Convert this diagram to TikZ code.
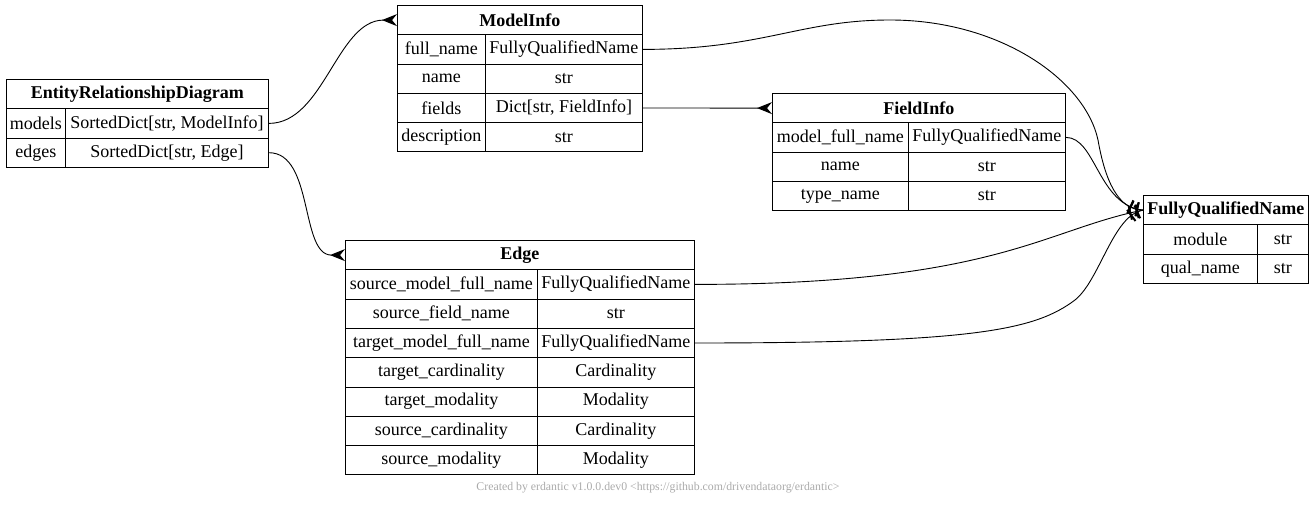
\documentclass[tikz,border=0pt]{standalone}
\usepackage{fontspec}
\setmainfont{Liberation Serif}
\usetikzlibrary{arrows.meta,decorations.markings}
\definecolor{creditgray}{RGB}{170,170,170}
\tikzset{crow/.style={-{Stealth[reversed,length=15pt,width=12pt,inset=5pt]}},
  one/.style={postaction={decorate,decoration={markings,
    mark=at position -6pt with {\draw[line width=2pt] (0,-7pt) -- (0,7pt);},
    mark=at position -13pt with {\draw[line width=2pt] (0,-7pt) -- (0,7pt);}}}}}

\begin{document}
\begin{tikzpicture}[x=1pt,y=-1pt,line width=0.9pt]
\useasboundingbox (0,0) rectangle (1315,505);
\begin{scope}
\tikzstyle{every node}=[draw, anchor=north west, minimum height=29.3pt, inner sep=0pt, font=\fontsize{18}{20}\selectfont];
% EntityRelationshipDiagram
\draw (6,79) node[minimum width=262pt, font=\fontsize{18}{20}\selectfont\bfseries] (erdh) {EntityRelationshipDiagram};
\draw (6,108.3) node[minimum width=59pt] (erd1) {models};
\draw (65,108.3) node[minimum width=203pt] (erd1t) {SortedDict[str, ModelInfo]};
\draw (6,137.6) node[minimum width=59pt] (erd2) {edges};
\draw (65,137.6) node[minimum width=203pt] (erd2t) {SortedDict[str, Edge]};
% ModelInfo
\draw (397,5) node[minimum width=245pt, font=\fontsize{18}{20}\selectfont\bfseries] (mih) {ModelInfo};
\draw (397,34.3) node[minimum width=88pt] (mi1) {full\_name};
\draw (485,34.3) node[minimum width=157pt] (mi1t) {FullyQualifiedName};
\draw (397,63.6) node[minimum width=88pt] (mi2) {name};
\draw (485,63.6) node[minimum width=157pt] (mi2t) {str};
\draw (397,92.9) node[minimum width=88pt] (mi3) {fields};
\draw (485,92.9) node[minimum width=157pt] (mi3t) {Dict[str, FieldInfo]};
\draw (397,122.2) node[minimum width=88pt] (mi4) {description};
\draw (485,122.2) node[minimum width=157pt] (mi4t) {str};
% FieldInfo
\draw (772,93) node[minimum width=293pt, font=\fontsize{18}{20}\selectfont\bfseries] (fih) {FieldInfo};
\draw (772,122.3) node[minimum width=136pt] (fi1) {model\_full\_name};
\draw (908,122.3) node[minimum width=157pt] (fi1t) {FullyQualifiedName};
\draw (772,151.6) node[minimum width=136pt] (fi2) {name};
\draw (908,151.6) node[minimum width=157pt] (fi2t) {str};
\draw (772,180.9) node[minimum width=136pt] (fi3) {type\_name};
\draw (908,180.9) node[minimum width=157pt] (fi3t) {str};
% FullyQualifiedName
\draw (1143,195) node[minimum width=165pt, font=\fontsize{18}{20}\selectfont\bfseries] (fqh) {FullyQualifiedName};
\draw (1143,224.3) node[minimum width=114pt] (fq1) {module};
\draw (1257,224.3) node[minimum width=51pt] (fq1t) {str};
\draw (1143,253.6) node[minimum width=114pt] (fq2) {qual\_name};
\draw (1257,253.6) node[minimum width=51pt] (fq2t) {str};
% Edge
\draw (345,240) node[minimum width=349pt, font=\fontsize{18}{20}\selectfont\bfseries] (edh) {Edge};
\draw (345,269.3) node[minimum width=192pt] (ed1) {source\_model\_full\_name};
\draw (537,269.3) node[minimum width=157pt] (ed1t) {FullyQualifiedName};
\draw (345,298.6) node[minimum width=192pt] (ed2) {source\_field\_name};
\draw (537,298.6) node[minimum width=157pt] (ed2t) {str};
\draw (345,327.9) node[minimum width=192pt] (ed3) {target\_model\_full\_name};
\draw (537,327.9) node[minimum width=157pt] (ed3t) {FullyQualifiedName};
\draw (345,357.2) node[minimum width=192pt] (ed4) {target\_cardinality};
\draw (537,357.2) node[minimum width=157pt] (ed4t) {Cardinality};
\draw (345,386.5) node[minimum width=192pt] (ed5) {target\_modality};
\draw (537,386.5) node[minimum width=157pt] (ed5t) {Modality};
\draw (345,415.8) node[minimum width=192pt] (ed6) {source\_cardinality};
\draw (537,415.8) node[minimum width=157pt] (ed6t) {Cardinality};
\draw (345,445.1) node[minimum width=192pt] (ed7) {source\_modality};
\draw (537,445.1) node[minimum width=157pt] (ed7t) {Modality};
\end{scope}

% many
\draw[crow] (erd1t.east) .. controls +(55,0) and +(-60,0) .. (mih.west);
\draw[crow] (erd2t.east) .. controls +(45,0) and +(-45,0) .. (edh.west);
\draw[crow] (mi3t.east) -- (fih.west);
% one
\draw[one] (mi1t.east) .. controls +(120,0) and +(-90,0) .. (890,20)
  .. controls +(110,0) and +(-13,-60) .. (1098,140)
  .. controls +(7,40) and +(-25,0) .. (fqh.west);
\draw[one] (fi1t.east) .. controls +(30,0) and +(-45,-5) .. (fqh.west);
\draw[one] (ed1t.east) .. controls +(300,0) and +(-100,20) .. (fqh.west);
\draw[one] (ed3t.east) .. controls +(280,0) and +(-40,30) .. (1075,300)
  .. controls +(25,-20) and +(-30,5) .. (fqh.west);

\node[text=creditgray, font=\fontsize{11.8}{13}\selectfont] (credit) at (658,488) {Created by erdantic v1.0.0.dev0 <https://github.com/drivendataorg/erdantic>};
\end{tikzpicture}
\end{document}
